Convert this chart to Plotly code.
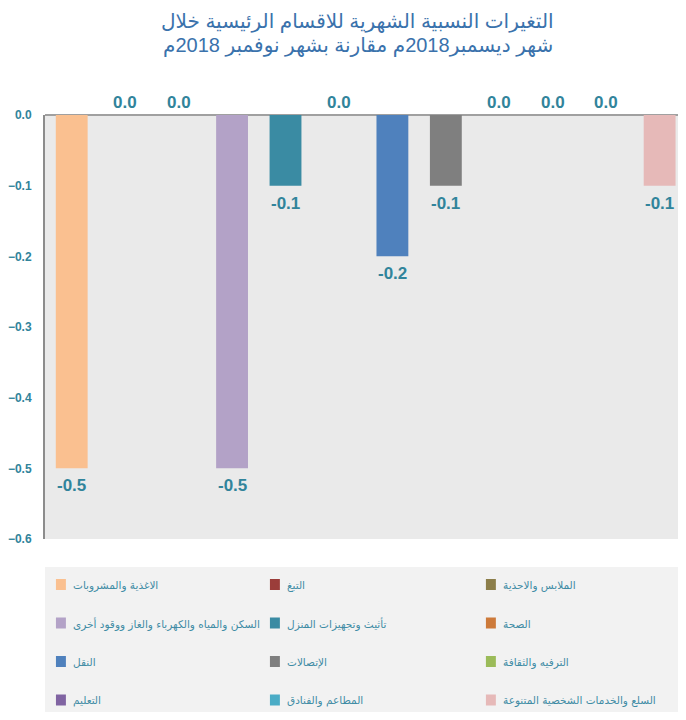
import plotly.graph_objects as go

categories = [
    "الاغذية والمشروبات",
    "التبغ",
    "الملابس والاحذية",
    "السكن والمياه والكهرباء والغاز ووقود أخرى",
    "تأثيث وتجهيزات المنزل",
    "الصحة",
    "النقل",
    "الإتصالات",
    "الترفيه والثقافة",
    "التعليم",
    "المطاعم والفنادق",
    "السلع والخدمات الشخصية المتنوعة",
]
values = [-0.5, 0.0, 0.0, -0.5, -0.1, 0.0, -0.2, -0.1, 0.0, 0.0, 0.0, -0.1]
colors = [
    "#FAC090", "#9B3D3A", "#8C7E4A", "#B3A2C7", "#3A8BA3", "#CD7A3A",
    "#4F81BD", "#7F7F7F", "#9BBB59", "#8064A2", "#4BACC6", "#E6B9B8",
]
tick_vals = [0.0, -0.1, -0.2, -0.3, -0.4, -0.5, -0.6]
title_lines = [
    "التغيرات النسبية الشهرية للاقسام الرئيسية خلال",
    "شهر ديسمبر2018م مقارنة بشهر نوفمبر 2018م",
]

# the page puts an 8px body margin around the figure
OFF = 8
W, H = 686 - 2 * OFF, 720 - 2 * OFF
ML, MR, MT = 42 - OFF, 0, 115 - OFF
MB = H - (539 - OFF)
PW, PH = W - ML - MR, H - MT - MB
label_color = "#31849B"
cat_px = 53.7  # pixels per category
x_max = -0.5 + PW / cat_px


def px_x(px):
    """window pixel x -> paper x"""
    return (px - OFF - ML) / PW


def px_y(py):
    """window pixel y -> paper y"""
    return (H - MB - (py - OFF)) / PH


fig = go.Figure()
x_idx = list(range(len(categories)))
fig.add_trace(go.Bar(
    x=x_idx, y=values, marker=dict(color=colors, line=dict(width=0)),
    width=0.596, showlegend=False, hoverinfo="skip",
))

num_font = dict(family="Liberation Sans, Arial", size=17, color=label_color, weight="bold")
annotations = []
for i, v in enumerate(values):
    if v < 0:
        annotations.append(dict(x=i, y=v, xref="x", yref="y", text=f"{v:.1f}",
                                showarrow=False, yanchor="top", yshift=-6, font=num_font))
    else:
        annotations.append(dict(x=i, y=v, xref="x", yref="y", text=f"{abs(v):.1f}",
                                showarrow=False, yanchor="bottom", yshift=1, font=num_font))

# title (two lines)
for k, line in enumerate(title_lines):
    annotations.append(dict(
        x=px_x(356), y=px_y(21 + 24 * k), xref="paper", yref="paper",
        xanchor="center", yanchor="middle", text=line, showarrow=False,
        font=dict(family="Liberation Sans, DejaVu Sans", size=20, color="#3A72AC"),
    ))

shapes = []
shapes.append(dict(type="rect", xref="paper", yref="paper",
                   x0=px_x(42), x1=px_x(686), y0=px_y(567), y1=px_y(720),
                   fillcolor="#F2F2F2", line=dict(width=0), layer="below"))
col_x = [53, 268, 485]
row_y0, row_dy = 585, 38.5
for i, (name, col) in enumerate(zip(categories, colors)):
    c, r = i % 3, i // 3
    sx = col_x[c]
    sy = row_y0 + r * row_dy
    shapes.append(dict(type="rect", xref="paper", yref="paper",
                       x0=px_x(sx), x1=px_x(sx + 10), y0=px_y(sy + 5), y1=px_y(sy - 6),
                       fillcolor=col, line=dict(width=0)))
    annotations.append(dict(x=px_x(sx + 15), y=px_y(sy), xref="paper", yref="paper",
                            xanchor="left", yanchor="middle", text=name, showarrow=False,
                            font=dict(family="DejaVu Sans", size=10.5, color="#3F8CA5")))

fig.update_layout(
    width=W, height=H, autosize=False,
    margin=dict(l=ML, r=MR, t=MT, b=MB, pad=0),
    paper_bgcolor="white", plot_bgcolor="#EAEAEA",
    xaxis=dict(range=[-0.5, x_max], showticklabels=False, showgrid=False,
               zeroline=False, showline=False, ticks=""),
    yaxis=dict(range=[-0.6, 0.0], tickvals=tick_vals, tickformat=".1f",
               showgrid=False, zeroline=True, zerolinecolor="#A0A0A0", zerolinewidth=2,
               showline=True, linecolor="#8C8C8C", linewidth=2, ticks="",
               ticklabelstandoff=9,
               tickfont=dict(family="Liberation Sans, Arial", size=12,
                             color=label_color, weight="bold")),
    annotations=annotations, shapes=shapes,
)

fig.write_html("out.html")
